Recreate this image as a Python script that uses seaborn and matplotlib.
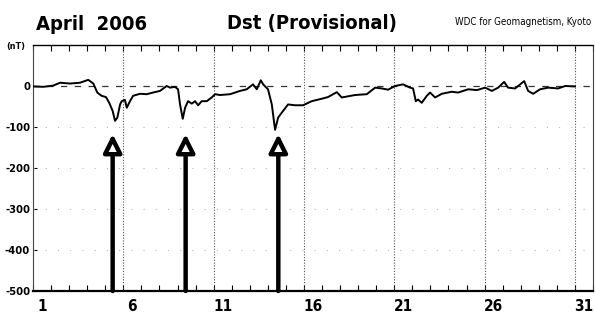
import matplotlib
matplotlib.use("Agg")
import matplotlib.pyplot as plt
import seaborn as sns
import pandas as pd

# Dst (nT), day of month (fractional)
days = [1.0, 1.57, 2.12, 2.5, 3.05, 3.6, 4.06, 4.34, 4.56, 4.8, 5.04, 5.22, 5.41,
        5.54, 5.67, 5.82, 5.91, 6.09, 6.19, 6.37, 6.54, 6.92, 7.30, 7.64, 8.03,
        8.40, 8.59, 8.86, 9.03, 9.14, 9.29, 9.42, 9.58, 9.79, 9.97, 10.14, 10.34,
        10.62, 10.89, 11.08, 11.35, 11.91, 12.46, 12.83, 13.18, 13.39, 13.61,
        13.74, 14.01, 14.22, 14.40, 14.57, 14.84, 15.12, 15.51, 15.95, 16.43,
        16.99, 17.33, 17.82, 18.09, 18.83, 19.48, 19.94, 20.31, 20.66, 21.04,
        21.49, 21.87, 22.04, 22.19, 22.32, 22.52, 22.80, 22.98, 23.26, 23.63,
        24.18, 24.53, 25.09, 25.57, 26.03, 26.40, 26.75, 27.08, 27.30, 27.69,
        28.19, 28.41, 28.69, 29.07, 29.52, 30.07, 30.46, 31.01]
dst = [-1, -2, 1, 8, 6, 8, 15, 6, -16, -24, -27, -41, -61,
       -85, -77, -45, -37, -34, -53, -37, -24, -19, -20, -16, -12,
       0, -4, -2, -8, -45, -80, -53, -37, -43, -37, -47, -37,
       -37, -28, -20, -22, -20, -12, -8, 4, -8, 14,
       4, -8, -45, -107, -77, -61, -45, -47, -47, -37,
       -31, -27, -15, -28, -22, -20, -4, -6, -9, 0,
       4, -4, -6, -37, -33, -41, -24, -16, -28, -19,
       -14, -16, -8, -10, -4, -12, -4, 10, -4, -6,
       12, -12, -19, -8, -4, -6, 0, -1]

storm_days = [5.41, 9.45, 14.58]
arrow_tip = -117

day_ticks = [1, 6, 11, 16, 21, 26, 31]
dst_ticks = [0, -100, -200, -300, -400, -500]

sns.set_style("white")
plt.rcParams['font.family'] = ['Liberation Sans Narrow', 'DejaVu Sans']
plt.rcParams['font.stretch'] = 'condensed'
for key in ['text.color', 'xtick.color', 'ytick.color', 'axes.labelcolor']:
    plt.rcParams[key] = 'black'

fig = plt.figure(figsize=(5.95, 3.2), dpi=100)
ax = fig.add_axes([33 / 595, 1 - 291 / 320, 560 / 595, 246 / 320])

df = pd.DataFrame({"day": days, "dst": dst})

# background grid
for d in day_ticks[1:]:
    ax.axvline(d, color="#555555", lw=0.8, ls=(0, (1, 1.5)), zorder=1)
for v in dst_ticks[1:-1]:
    ax.axhline(v, color="#bbbbbb", lw=0.8, ls=(0, (1, 10)), zorder=1)
ax.axhline(0, color="#333333", lw=0.9, ls=(0, (5, 6)), zorder=1)

sns.lineplot(data=df, x="day", y="dst", color="black", lw=1.4, ax=ax, zorder=3)

for d in storm_days:
    ax.annotate("", xy=(d, arrow_tip), xytext=(d, -500),
                arrowprops=dict(arrowstyle="-|>,head_length=1.1,head_width=0.55",
                                lw=3.2, fc="white", ec="black",
                                shrinkA=0, shrinkB=0),
                zorder=4)

ax.set_xlim(1, 32)
ax.set_ylim(-500, 100)
ax.set_xlabel("")
ax.set_ylabel("")

ax.set_xticks([d + 0.5 for d in day_ticks])
ax.set_xticklabels([str(d) for d in day_ticks], fontsize=11, fontweight="bold")
ax.set_xticks(range(1, 33), minor=True)
ax.tick_params(axis="x", which="major", length=0, pad=6)
ax.tick_params(axis="x", which="minor", direction="in", length=4, width=0.8,
               top=True, bottom=True, color="black")

ax.set_yticks(dst_ticks)
ax.set_yticklabels([str(v) for v in dst_ticks], fontsize=8, fontweight="bold")
ax.tick_params(axis="y", which="major", direction="in", length=3, width=0.8,
               left=True, pad=2, color="black")

for side in ["left", "right"]:
    ax.spines[side].set_linestyle((0, (1, 1)))
    ax.spines[side].set_color("#444444")
    ax.spines[side].set_linewidth(0.8)
ax.spines["top"].set_linestyle((0, (3, 1)))
ax.spines["top"].set_color("black")
ax.spines["top"].set_linewidth(1.0)
ax.spines["bottom"].set_color("black")
ax.spines["bottom"].set_linewidth(1.6)

fig.text(36 / 595, 1 - 24 / 320, "April  2006", fontsize=14.5, fontweight="bold",
         ha="left", va="center")
fig.text(312 / 595, 1 - 24 / 320, "Dst (Provisional)", fontsize=14.5, fontweight="bold",
         ha="center", va="center")
fig.text(591 / 595, 1 - 22 / 320, "WDC for Geomagnetism, Kyoto", fontsize=7,
         ha="right", va="center")
fig.text(16 / 595, 1 - 47 / 320, "(nT)", fontsize=6.5, fontweight="bold",
         ha="center", va="center")

fig.savefig("out.png", dpi=100)
